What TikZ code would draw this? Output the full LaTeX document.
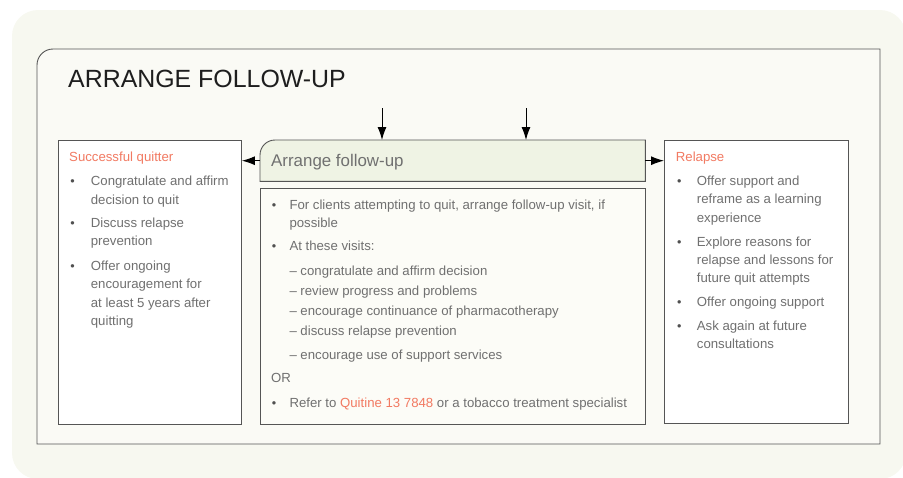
\documentclass[tikz,border=0pt]{standalone}
\usepackage{fontspec}
\setmainfont{Liberation Sans}
\usetikzlibrary{arrows.meta}
\definecolor{bgcol}{HTML}{F7F8F0}
\definecolor{framefill}{HTML}{FAFAF5}
\definecolor{linecol}{HTML}{555555}
\definecolor{hdrfill}{HTML}{EFF3E4}
\definecolor{bodyfill}{HTML}{FCFCF7}
\definecolor{txtgray}{HTML}{707070}
\definecolor{bulgray}{HTML}{505050}
\definecolor{accent}{HTML}{F27A62}
\definecolor{titlecol}{HTML}{1E1E1E}
\tikzset{
  box/.style={draw=linecol, line width=0.9pt, fill=white, anchor=north west, inner sep=0},
  txt/.style={anchor=base west, inner sep=0, text=txtgray, font=\fontsize{13.2}{15}\selectfont},
  head/.style={anchor=base west, inner sep=0, text=accent, font=\fontsize{13.2}{15}\selectfont},
  bul/.style={anchor=base, inner sep=0, text=bulgray, font=\fontsize{12.6}{15}\selectfont},
  arr/.style={-{Latex[length=13pt,width=9pt]}, line width=1pt, black},
}
\begin{document}
\begin{tikzpicture}[x=1pt,y=-1pt]
\useasboundingbox (0,0) rectangle (903,477);
% background
\fill[bgcol, rounded corners=26] (12,10) rectangle (906,479);
% outer frame
\draw[draw=linecol, fill=framefill, line width=0.9pt] (880,444) -- (37,444) [rounded corners=16] -- (37,49) [sharp corners] -- (880,49) -- cycle;
\node[anchor=base west, inner sep=0, text=titlecol, font=\fontsize{24.9}{28}\selectfont] (title) at (68,87) {ARRANGE FOLLOW-UP};

% boxes
\node[box, minimum width=183, minimum height=284] (succ) at (58,140) {};
\node[box, minimum width=184, minimum height=283] (rel) at (664,140) {};
\node[box, fill=bodyfill, minimum width=385, minimum height=236] (body) at (260,188) {};
\node[anchor=north west, inner sep=0, minimum width=385, minimum height=41] (hdr) at (260,140) {};
\draw[draw=linecol, fill=hdrfill, line width=0.9pt] (hdr.north east) -- (hdr.south east) -- (hdr.south west) [rounded corners=15] -- (hdr.north west) [sharp corners] -- (hdr.north east) -- cycle;
\node[anchor=base west, inner sep=0, text=txtgray, font=\fontsize{16.9}{20}\selectfont] (hdrtext) at (271,166) {Arrange follow-up};

% arrows
\coordinate (in1) at (382,108);
\coordinate (in2) at (526,108);
\draw[arr] (in1) -- (in1 |- hdr.north);
\draw[arr] (in2) -- (in2 |- hdr.north);
\draw[arr] (hdr.west) -- (hdr.west -| succ.east);
\draw[arr] (hdr.east) -- (hdr.east -| rel.west);

% left box text
\node[head] (sq) at (69,161) {Successful quitter};
\node[bul] (sb1) at (72.5,185.7) {•};
\node[txt] (s1a) at (90.7,185.7) {Congratulate and affirm};
\node[txt] (s1b) at (90.7,204) {decision to quit};
\node[bul] (sb2) at (72.5,227) {•};
\node[txt] (s2a) at (90.7,227) {Discuss relapse};
\node[txt] (s2b) at (90.7,245.5) {prevention};
\node[bul] (sb3) at (72.5,270) {•};
\node[txt] (s3a) at (90.7,270) {Offer ongoing};
\node[txt] (s3b) at (90.7,288.5) {encouragement for};
\node[txt] (s3c) at (90.7,307) {at least 5 years after};
\node[txt] (s3d) at (90.7,325.5) {quitting};

% center body text
\node[bul] (cb1) at (274,209.3) {•};
\node[txt] (c1a) at (289.3,209.3) {For clients attempting to quit, arrange follow-up visit, if};
\node[txt] (c1b) at (289.3,227.3) {possible};
\node[bul] (cb2) at (274,250.7) {•};
\node[txt] (c2) at (289.3,250.7) {At these visits:};
\node[txt] (c3) at (289.3,275) {– congratulate and affirm decision};
\node[txt] (c4) at (289.3,295) {– review progress and problems};
\node[txt] (c5) at (289.3,315) {– encourage continuance of pharmacotherapy};
\node[txt] (c6) at (289.3,335) {– discuss relapse prevention};
\node[txt] (c7) at (289.3,359) {– encourage use of support services};
\node[txt] (cor) at (271,382.7) {OR};
\node[bul] (cb3) at (274,407.3) {•};
\node[txt] (c8) at (289.3,407.3) {Refer to \textcolor{accent}{Quitine 13 7848} or a tobacco treatment specialist};

% right box text
\node[head] (rl) at (675.7,161) {Relapse};
\node[bul] (rb1) at (679.3,185.7) {•};
\node[txt] (r1a) at (696.7,185.7) {Offer support and};
\node[txt] (r1b) at (696.7,203.8) {reframe as a learning};
\node[txt] (r1c) at (696.7,222) {experience};
\node[bul] (rb2) at (679.3,246) {•};
\node[txt] (r2a) at (696.7,246) {Explore reasons for};
\node[txt] (r2b) at (696.7,264.2) {relapse and lessons for};
\node[txt] (r2c) at (696.7,282.5) {future quit attempts};
\node[bul] (rb3) at (679.3,306.7) {•};
\node[txt] (r3) at (696.7,306.7) {Offer ongoing support};
\node[bul] (rb4) at (679.3,330) {•};
\node[txt] (r4a) at (696.7,330) {Ask again at future};
\node[txt] (r4b) at (696.7,348.3) {consultations};
\end{tikzpicture}
\end{document}
